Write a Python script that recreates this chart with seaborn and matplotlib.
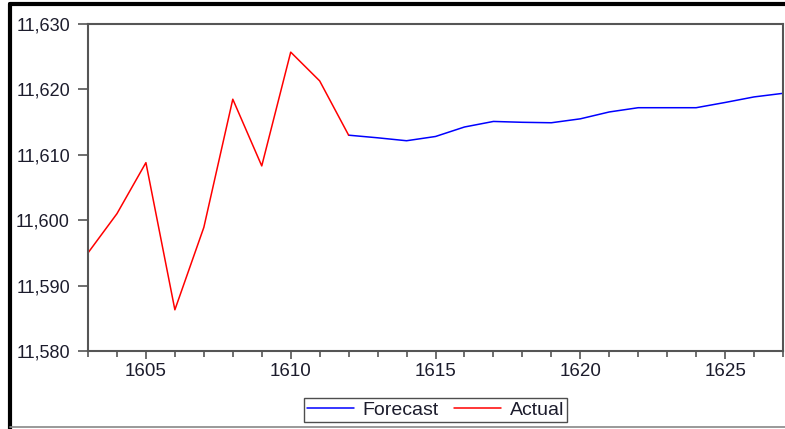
import matplotlib
matplotlib.use("Agg")
import matplotlib.pyplot as plt
import seaborn as sns
import pandas as pd
from matplotlib.lines import Line2D
from matplotlib.ticker import FuncFormatter, MultipleLocator

actual_years = [1603, 1604, 1605, 1606, 1607, 1608, 1609, 1610, 1611, 1612]
actual_vals = [11595.0, 11601.0, 11608.8, 11586.3, 11598.9, 11618.5, 11608.3, 11625.7, 11621.3, 11613.0]

forecast_years = list(range(1612, 1628))
forecast_vals = [11613.0, 11612.6, 11612.15, 11612.8, 11614.25, 11615.1, 11614.97, 11614.9,
                 11615.5, 11616.55, 11617.2, 11617.2, 11617.2, 11618.0, 11618.85, 11619.4]

sns.set_style("white")
plt.rcParams['font.family'] = ['Liberation Sans', 'DejaVu Sans']

fig = plt.figure(figsize=(7.85, 4.29), dpi=100)
ax = fig.add_axes([88/785, 1-351/429, (783-88)/785, (351-24)/429])

df_a = pd.DataFrame({"year": actual_years, "value": actual_vals})
df_f = pd.DataFrame({"year": forecast_years, "value": forecast_vals})
sns.lineplot(data=df_f, x="year", y="value", ax=ax, color="#0000ff", lw=1.1, label="Forecast")
sns.lineplot(data=df_a, x="year", y="value", ax=ax, color="#ff0000", lw=1.1, label="Actual")

ax.set_xlim(1603, 1627)
ax.set_ylim(11580, 11630)
ax.set_xlabel("")
ax.set_ylabel("")
ax.xaxis.set_major_locator(MultipleLocator(5))
ax.xaxis.set_minor_locator(MultipleLocator(1))
ax.yaxis.set_major_locator(MultipleLocator(10))
ax.yaxis.set_major_formatter(FuncFormatter(lambda v, p: f"{int(round(v)):,}"))

txtc = "#1c1c2c"
ax.tick_params(axis="x", which="major", direction="out", length=6, width=1.2, color="#555555",
               labelsize=13.5, labelcolor=txtc, pad=3, bottom=True)
ax.tick_params(axis="x", which="minor", direction="out", length=4, width=1.2, color="#555555", bottom=True)
ax.tick_params(axis="y", which="major", direction="out", length=7, width=1.2, color="#555555",
               labelsize=13, labelcolor=txtc, pad=6, left=True)
for s in ax.spines.values():
    s.set_color("#555555")
    s.set_linewidth(1.5)

leg = ax.legend(loc="upper center", bbox_to_anchor=(0.5, -0.145), ncol=2, frameon=True,
                fancybox=False, edgecolor="#222222", fontsize=14, handlelength=2.4,
                columnspacing=0.8, handletextpad=0.45, borderpad=0.15, borderaxespad=0)
leg.get_frame().set_linewidth(1.0)
for t in leg.get_texts():
    t.set_color(txtc)

# outer frame of the screenshot
fig.add_artist(Line2D([10/785, 10/785], [0, 1-4/429], transform=fig.transFigure, color="black", lw=3))
fig.add_artist(Line2D([10/785, 1], [1-4/429, 1-4/429], transform=fig.transFigure, color="black", lw=3))
fig.add_artist(Line2D([10/785, 1], [1-427/429, 1-427/429], transform=fig.transFigure, color="#888888", lw=1.2))

fig.savefig("out.png", dpi=100)
